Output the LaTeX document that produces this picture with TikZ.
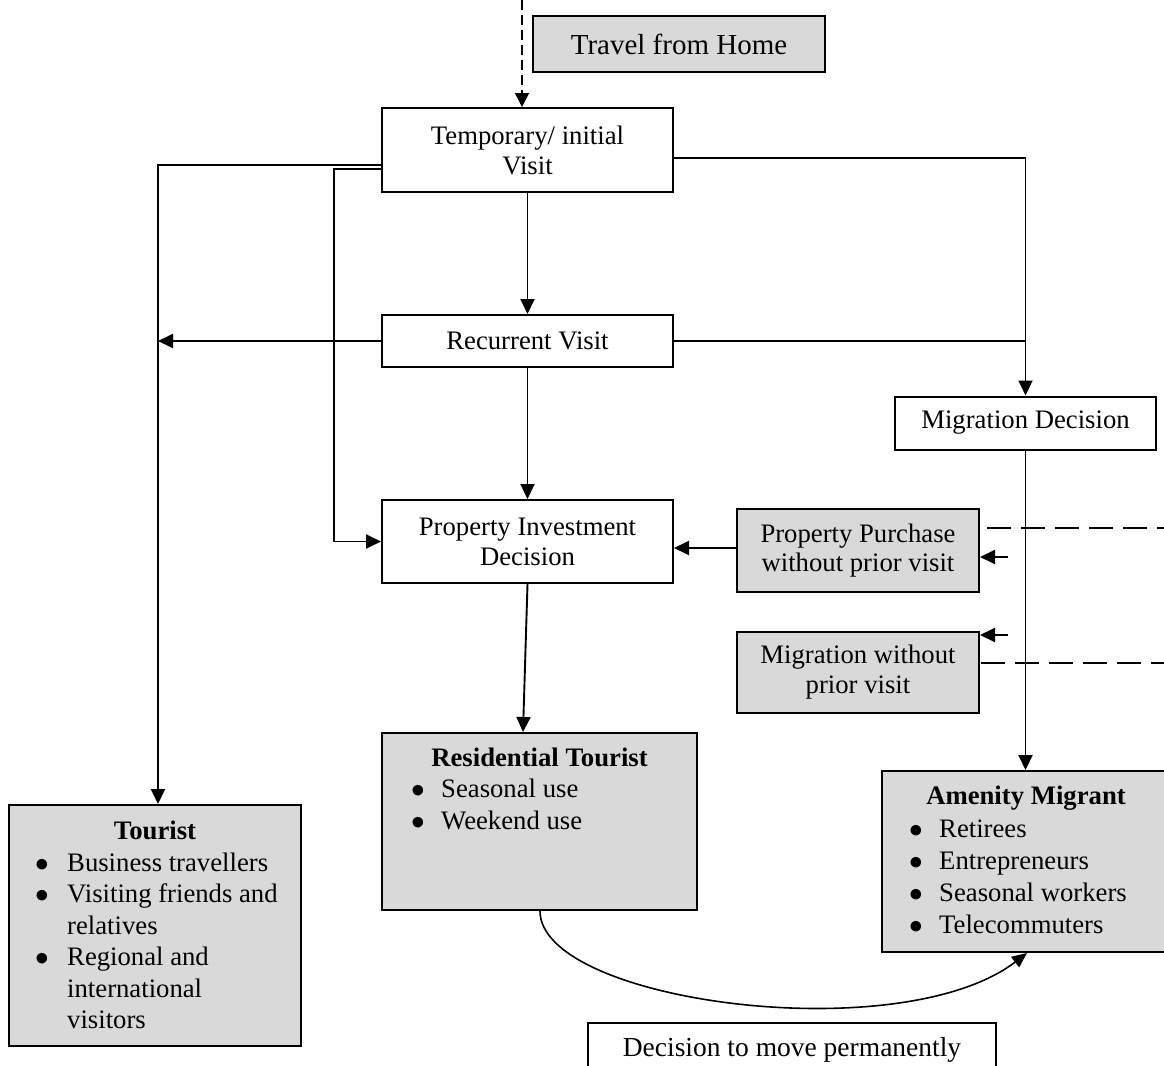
\documentclass[tikz,border=0pt]{standalone}
\usepackage{graphicx}
\usepackage{fontspec}
\setmainfont{Liberation Serif}
\usetikzlibrary{arrows.meta,calc}
\definecolor{boxgray}{RGB}{217,217,217}
\newcommand{\bul}{\scalebox{1.1}{$\bullet$}}
\begin{document}
\begin{tikzpicture}[x=1pt,y=-1pt,
  every node/.style={font=\fontsize{26.7pt}{30pt}\selectfont},
  box/.style={draw, line width=2pt, inner sep=0pt, align=center},
  gbox/.style={box, fill=boxgray},
  conn/.style={line width=1.9pt},
  arr/.style={conn, -{Triangle[length=15pt,width=14pt]}},
  topdash/.style={line width=1.5pt, dash pattern=on 10pt off 5pt, -{Triangle[length=14pt,width=14pt]}},
  longdash/.style={line width=1.7pt, dash pattern=on 24pt off 10pt},
  curvearr/.style={line width=1.6pt, -{Triangle[length=15pt,width=13pt]}},
  title/.style={inner sep=0pt, anchor=base, font=\fontsize{26.7pt}{32pt}\selectfont\bfseries},
  listtxt/.style={inner sep=0pt, anchor=base west, font=\fontsize{26.7pt}{32pt}\selectfont}]
\useasboundingbox (0,0) rectangle (1164,1065);

% boxes
\node[gbox, minimum width=292pt, minimum height=56pt, font=\fontsize{29pt}{32pt}\selectfont] (travel) at (679,44) {Travel from Home};
\node[box, minimum width=291pt, minimum height=84pt] (temp) at (527.5,150) {Temporary/ initial\\Visit};
\node[box, minimum width=291pt, minimum height=52pt] (recur) at (527.5,341) {Recurrent Visit};
\node[box, minimum width=261pt, minimum height=53pt] (migd) at (1025.5,423) {Migration Decision};
\node[box, minimum width=291pt, minimum height=83pt] (prop) at (527.5,541.5) {Property Investment\\Decision};
\node[gbox, minimum width=242pt, minimum height=83pt, font=\fontsize{26.7pt}{29pt}\selectfont] (ppw) at (858,550.5) {Property Purchase\\without prior visit};
\node[gbox, minimum width=242pt, minimum height=81pt, font=\fontsize{26.7pt}{30pt}\selectfont] (mwp) at (858,672.5) {Migration without\\prior visit};
\node[gbox, minimum width=315pt, minimum height=177pt] (res) at (539.5,821.5) {};
\node[gbox, minimum width=288pt, minimum height=181pt] (amen) at (1026,861.5) {};
\node[gbox, minimum width=292pt, minimum height=241pt] (tour) at (155,925.5) {};
\node[box, minimum width=408pt, minimum height=62pt, text height=19pt, text depth=15pt, font=\fontsize{27.5pt}{30pt}\selectfont] (dec) at (792,1054) {Decision to move permanently};

% box contents
\node[title] (tourh) at ($(tour.north)+(0,35)$) {Tourist};
\node[listtxt, font=\fontsize{26.7pt}{31.5pt}\selectfont] (tourl) at ($(tour.north west)+(27,67)$)
  {\begin{tabular}[t]{@{}p{32pt}@{}l@{}}
   \bul & Business travellers\\
   \bul & Visiting friends and\\
        & relatives\\
   \bul & Regional and\\
        & international\\
        & visitors
   \end{tabular}};
\node[title] (resh) at ($(res.north)+(0,34)$) {Residential Tourist};
\node[listtxt] (resl) at ($(res.north west)+(30,65)$)
  {\begin{tabular}[t]{@{}p{30pt}@{}l@{}}
   \bul & Seasonal use\\
   \bul & Weekend use
   \end{tabular}};
\node[title] (amenh) at ($(amen.north)+(0,34)$) {Amenity Migrant};
\node[listtxt] (amenl) at ($(amen.north west)+(28,67)$)
  {\begin{tabular}[t]{@{}p{30pt}@{}l@{}}
   \bul & Retirees\\
   \bul & Entrepreneurs\\
   \bul & Seasonal workers\\
   \bul & Telecommuters
   \end{tabular}};

% helper coordinates
\coordinate (topin) at (522,0);
\coordinate (tx) at ($(tour.north)+(3,0)$);
\coordinate (lx) at (334,0);
\coordinate (pp) at ($(ppw.west)+(0,-2.5)$);
\coordinate (s1) at (1008,557);
\coordinate (s2) at (1008,635);
\coordinate (d1) at (987,528);
\coordinate (d1e) at (1164,528);
\coordinate (d2) at (980.5,663);
\coordinate (d2e) at (1164,663);

% connectors
\draw[topdash] (topin) -- (topin |- temp.north);
\draw[arr] (temp.south) -- (recur.north);
\draw[arr] (recur.south) -- (prop.north);
\draw[arr] (prop.south) -- ($(res.north)+(-16.5,0)$);
\draw[arr] ($(temp.east)+(0,8)$) -| (migd.north);
\draw[conn] (recur.east) -- (recur.east -| migd.north);
\draw[arr] (migd.south) -- (migd.south |- amen.north);
\draw[arr] ($(temp.west)+(0,15)$) -| (tx);
\draw[arr] ($(temp.west)+(0,19)$) -| (lx |- prop.west) -- (prop.west);
\draw[arr] (recur.west) -- (recur.west -| tx);
\draw[arr] (pp) -- (pp -| prop.east);
\draw[arr] (s1) -- (s1 -| ppw.east);
\draw[arr] (s2) -- (s2 -| mwp.east);
\draw[longdash] (d1) -- (d1e);
\draw[longdash] (d2) -- (d2e);
\draw[curvearr] ($(res.south)+(0.5,0)$) .. controls +(0,91) and +(-127,97) .. ($(amen.south)+(1,0)$);
\end{tikzpicture}
\end{document}
